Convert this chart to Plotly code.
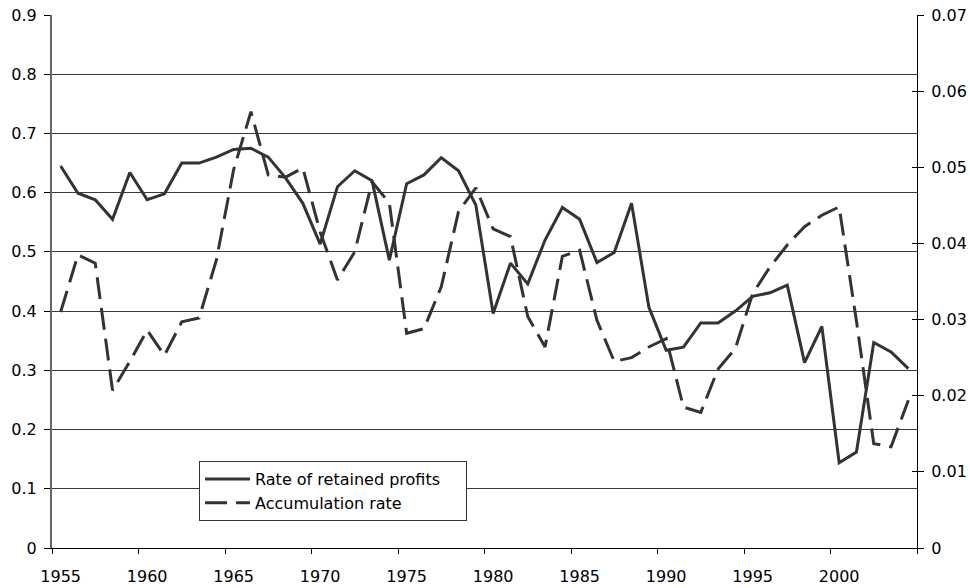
import plotly.graph_objects as go

years = list(range(1955, 2005))

retained_profits = [
    0.645, 0.599, 0.588, 0.555, 0.634, 0.588, 0.598, 0.650, 0.650, 0.660,
    0.673, 0.675, 0.660, 0.625, 0.582, 0.513, 0.610, 0.637, 0.620, 0.486,
    0.615, 0.630, 0.659, 0.637, 0.579, 0.396, 0.481, 0.446, 0.520, 0.575,
    0.555, 0.482, 0.499, 0.582, 0.407, 0.334, 0.339, 0.380, 0.380, 0.400,
    0.425, 0.431, 0.444, 0.313, 0.374, 0.144, 0.162, 0.347, 0.331, 0.303,
]

accumulation = [
    0.0310, 0.0385, 0.0374, 0.0207, 0.0245, 0.0286, 0.0253, 0.0297, 0.0302, 0.0378,
    0.0497, 0.0573, 0.0490, 0.0487, 0.0499, 0.0415, 0.0352, 0.0389, 0.0481, 0.0453,
    0.0282, 0.0288, 0.0343, 0.0442, 0.0473, 0.0419, 0.0409, 0.0304, 0.0264, 0.0383,
    0.0391, 0.0299, 0.0245, 0.0250, 0.0264, 0.0275, 0.0185, 0.0178, 0.0235, 0.0262,
    0.0334, 0.0369, 0.0398, 0.0422, 0.0437, 0.0448, 0.0298, 0.0137, 0.0133, 0.0194,
]

tick_years = list(range(1955, 2001, 5))
tick_labels = [str(y) for y in tick_years]
left_ticks = [round(0.1 * i, 1) for i in range(10)]
left_labels = ["0"] + [f"{v:.1f}" for v in left_ticks[1:]]
right_ticks = [round(0.01 * i, 2) for i in range(8)]
right_labels = ["0"] + [f"{v:.2f}" for v in right_ticks[1:]]

# categories are centred between tick marks (Excel style)
xpos = [y + 0.5 for y in years]

FONT = "DejaVu Sans"
LINE_COLOR = "#333333"
PAD = "\u00a0\u00a0\u00a0\u00a0"

fig = go.Figure()
fig.add_trace(go.Scatter(
    x=xpos, y=retained_profits, mode="lines", name="Rate of retained profits" + PAD,
    line=dict(color=LINE_COLOR, width=3), xaxis="x", yaxis="y",
))
fig.add_trace(go.Scatter(
    x=xpos, y=accumulation, mode="lines", name="Accumulation rate",
    line=dict(color=LINE_COLOR, width=3, dash="22px,9px"), xaxis="x2", yaxis="y2",
))
# helper trace for inner half of right tick marks
fig.add_trace(go.Scatter(x=[None], y=[None], xaxis="x", yaxis="y3",
                         showlegend=False, hoverinfo="skip"))

fig.update_layout(
    width=970, height=588,
    margin=dict(l=52, r=53, t=15, b=40),
    paper_bgcolor="white", plot_bgcolor="white",
    font=dict(family=FONT, size=15, color="black"),
    showlegend=True,
    legend=dict(
        x=0.170, y=0.163, xanchor="left", yanchor="top",
        bgcolor="white", bordercolor="#333333", borderwidth=1,
        font=dict(family=FONT, size=16, color="black"),
        tracegroupgap=0, itemwidth=45,
    ),
    xaxis=dict(
        range=[1955, 2005], tickmode="array",
        tickvals=list(range(1955, 2006, 5)),
        showticklabels=False, ticks="outside", ticklen=5, tickcolor="black",
        showline=True, linecolor="black", linewidth=1,
        showgrid=False, zeroline=False, automargin=False,
    ),
    xaxis2=dict(
        range=[1955, 2005], overlaying="x", anchor="y", side="bottom",
        tickmode="array", tickvals=[y + 0.5 for y in tick_years], ticktext=tick_labels,
        ticks="outside", ticklen=14, tickcolor="rgba(0,0,0,0)",
        showline=False, showgrid=False, zeroline=False,
        ticklabeloverflow="allow", automargin=False,
        tickfont=dict(family=FONT, size=16, color="black"),
    ),
    yaxis=dict(
        range=[0, 0.9], tickmode="array", tickvals=left_ticks, ticktext=left_labels,
        ticks="outside", ticklen=6, tickcolor="black", ticklabelstandoff=4,
        showline=True, linecolor="#666666", linewidth=2,
        showgrid=True, gridcolor="#3a3a3a", gridwidth=1, zeroline=False,
        ticklabeloverflow="allow", automargin=False,
        tickfont=dict(family=FONT, size=16, color="black"),
    ),
    yaxis2=dict(
        range=[0, 0.07], overlaying="y", side="right", anchor="x",
        tickmode="array", tickvals=right_ticks, ticktext=right_labels,
        ticks="outside", ticklen=6, tickcolor="black", ticklabelstandoff=4,
        showline=True, linecolor="black", linewidth=1,
        showgrid=False, zeroline=False,
        ticklabeloverflow="allow", automargin=False,
        tickfont=dict(family=FONT, size=16, color="black"),
    ),
    yaxis3=dict(
        range=[0, 0.07], overlaying="y", side="right", anchor="x",
        tickmode="array", tickvals=right_ticks, showticklabels=False,
        ticks="inside", ticklen=5, tickcolor="black",
        showline=False, showgrid=False, zeroline=False, automargin=False,
    ),
)

fig.write_html(
    "out.html",
    config={"displayModeBar": False},
    post_script="document.body.style.margin='0';document.body.style.overflow='hidden';",
)
